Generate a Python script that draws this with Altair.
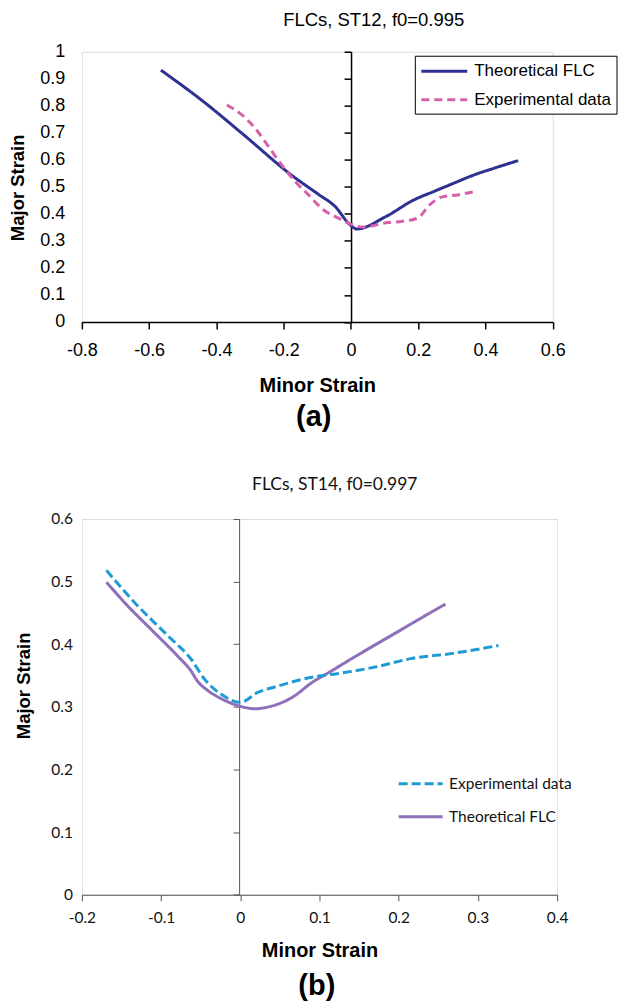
import altair as alt
import pandas as pd

# ---------------- data: panel (a)  ST12, f0 = 0.995 ----------------
A_THEO_MINOR = [-0.565, -0.438, -0.324, -0.171, -0.100, -0.047, -0.003, 0.017, 0.104, 0.188, 0.247, 0.307, 0.366, 0.426, 0.497]
A_THEO_MAJOR = [0.932, 0.815, 0.698, 0.538, 0.475, 0.427, 0.360, 0.344, 0.390, 0.452, 0.483, 0.514, 0.544, 0.569, 0.597]
A_EXP_MINOR = [-0.369, -0.324, -0.285, -0.245, -0.206, -0.166, -0.126, -0.082, -0.037, -0.003, 0.037, 0.111, 0.150, 0.198, 0.234, 0.269, 0.317, 0.370]
A_EXP_MAJOR = [0.803, 0.766, 0.717, 0.649, 0.581, 0.520, 0.470, 0.415, 0.384, 0.363, 0.351, 0.368, 0.372, 0.384, 0.433, 0.462, 0.470, 0.483]
A_XTICKS = [-0.8, -0.6, -0.4, -0.2, 0, 0.2, 0.4, 0.6]
A_YTICKS = [0, 0.1, 0.2, 0.3, 0.4, 0.5, 0.6, 0.7, 0.8, 0.9, 1]
A_SERIES = ["Theoretical FLC", "Experimental data"]
A_COLORS = ["#2E3192", "#D660AC"]

# ---------------- data: panel (b)  ST14, f0 = 0.997 ----------------
B_EXP_MINOR = [-0.169, -0.133, -0.091, -0.062, -0.045, -0.024, 0.0, 0.022, 0.047, 0.093, 0.122, 0.172, 0.215, 0.266, 0.326]
B_EXP_MAJOR = [0.518, 0.466, 0.413, 0.376, 0.344, 0.320, 0.307, 0.323, 0.333, 0.348, 0.353, 0.364, 0.377, 0.385, 0.398]
B_THEO_MINOR = [-0.169, -0.142, -0.108, -0.079, -0.062, -0.054, -0.043, -0.024, 0.0, 0.018, 0.039, 0.064, 0.093, 0.112, 0.142, 0.177, 0.207, 0.238, 0.259]
B_THEO_MAJOR = [0.499, 0.461, 0.418, 0.381, 0.357, 0.341, 0.328, 0.313, 0.301, 0.297, 0.301, 0.314, 0.341, 0.355, 0.378, 0.404, 0.426, 0.449, 0.464]
B_XTICKS = [-0.2, -0.1, 0, 0.1, 0.2, 0.3, 0.4]
B_YTICKS = [0, 0.1, 0.2, 0.3, 0.4, 0.5, 0.6]
B_SERIES = ["Experimental data", "Theoretical FLC"]
B_COLORS = ["#1E9AD5", "#8D6FBA"]

FA = "Liberation Sans"
FB = "Lato"


def frame(theo_x, theo_y, exp_x, exp_y):
    t = pd.DataFrame({"minor": theo_x, "major": theo_y, "series": "Theoretical FLC"})
    e = pd.DataFrame({"minor": exp_x, "major": exp_y, "series": "Experimental data"})
    return pd.concat([t, e], ignore_index=True)


dfa = frame(A_THEO_MINOR, A_THEO_MAJOR, A_EXP_MINOR, A_EXP_MAJOR)
dfb = frame(B_THEO_MINOR, B_THEO_MAJOR, B_EXP_MINOR, B_EXP_MAJOR)

# ---------------- panel (a) ----------------
leg_a = alt.Legend(orient="none", legendX=333.5, legendY=4, title=None, direction="vertical",
                   strokeColor="black", fillColor="white", padding=5, cornerRadius=0,
                   labelFont=FA, labelFontSize=17, labelColor="black", labelLimit=400,
                   symbolType="M-1,0L4.11,0", symbolSize=324, symbolStrokeWidth=3,
                   labelOffset=33.4, rowPadding=9.6)

lines_a = alt.Chart(dfa).mark_line(strokeWidth=3, interpolate="monotone").encode(
    x=alt.X("minor:Q", scale=alt.Scale(domain=[-0.8, 0.6], nice=False, zero=False),
            axis=alt.Axis(values=A_XTICKS, format=".1~f", grid=False, tickSize=7, tickColor="black",
                          tickWidth=1.5, domainColor="black", domainWidth=1.5, labelFont=FA,
                          labelFontSize=18, labelColor="black", labelPadding=12.9, labelFlush=False,
                          labelOverlap=False, title="Minor Strain", titleFont=FA, titleFontSize=20,
                          titleFontWeight="bold", titleColor="black", titleBaseline="alphabetic",
                          titleY=69.4)),
    y=alt.Y("major:Q", scale=alt.Scale(domain=[0, 1], nice=False, zero=False),
            axis=alt.Axis(values=A_YTICKS, format=".1~f", grid=False, offset=-269.6, tickSize=7,
                          tickColor="black", tickWidth=1.5, domainColor="black", domainWidth=1.5,
                          labelFont=FA, labelFontSize=18, labelColor="black", labelPadding=279.8,
                          labelFlush=False, labelOverlap=False, title="Major Strain", titleFont=FA,
                          titleFontSize=18.5, titleFontWeight="bold", titleColor="black",
                          titleAngle=270, titleAlign="center", titleBaseline="middle",
                          titleX=-333.8, titleY=135.8)),
    color=alt.Color("series:N", scale=alt.Scale(domain=A_SERIES, range=A_COLORS), legend=leg_a),
    strokeDash=alt.StrokeDash("series:N", scale=alt.Scale(domain=A_SERIES, range=[[1, 0], [8, 5]]),
                              legend=leg_a),
)

frame_a = alt.Chart(dfa).mark_point(opacity=0).encode(
    x=alt.X("minor:Q", axis=alt.Axis(orient="top", domain=False, ticks=False, labels=False, grid=False,
                                     title="FLCs, ST12, f0=0.995", titleFont=FA, titleFontSize=18.5,
                                     titleFontWeight="normal", titleColor="black", titleAlign="center",
                                     titleBaseline="top", titleAngle=0, titleX=291.8, titleY=-41.7)),
    y=alt.Y("major:Q", axis=alt.Axis(orient="right", domain=False, ticks=False, labels=False, grid=False,
                                     title="(a)", titleFont=FA, titleFontSize=29, titleFontWeight="bold",
                                     titleColor="black", titleAngle=0, titleAlign="center",
                                     titleBaseline="alphabetic", titleX=-239.8, titleY=374.8)),
)

panel_a = alt.layer(lines_a, frame_a).resolve_axis(x="independent", y="independent").properties(
    width=471.6, height=270.6)

# ---------------- panel (b) ----------------
leg_b = alt.Legend(orient="none", legendX=315.8, legendY=255.7, title=None, direction="vertical",
                   padding=0, labelFont=FB, labelFontSize=15.5, labelColor="#111111", labelLimit=400,
                   symbolType="M-1,0L4.5,0", symbolSize=256, symbolStrokeWidth=3,
                   labelOffset=33, rowPadding=15)

lines_b = alt.Chart(dfb).mark_line(strokeWidth=3, interpolate="monotone").encode(
    x=alt.X("minor:Q", scale=alt.Scale(domain=[-0.2, 0.4], nice=False, zero=False),
            axis=alt.Axis(values=B_XTICKS, format=".1~f", grid=False, tickSize=6, tickColor="#555555",
                          domainColor="#555555", domainWidth=1, labelFont=FB, labelFontSize=15.5,
                          labelColor="#111111", labelPadding=9.9, labelFlush=False, labelOverlap=False,
                          title="Minor Strain", titleFont=FA, titleFontSize=20, titleFontWeight="bold",
                          titleColor="black", titleBaseline="alphabetic", titleY=61.5)),
    y=alt.Y("major:Q", scale=alt.Scale(domain=[0, 0.6], nice=False, zero=False),
            axis=alt.Axis(values=B_YTICKS, format=".1~f", grid=False, offset=-157.5, tickSize=6,
                          tickColor="#555555", domainColor="#555555", domainWidth=1, labelFont=FB,
                          labelFontSize=15.5, labelColor="#111111", labelPadding=161,
                          labelFlush=False, labelOverlap=False, title="Major Strain", titleFont=FA,
                          titleFontSize=18.5, titleFontWeight="bold", titleColor="black",
                          titleAngle=270, titleAlign="center", titleBaseline="middle",
                          titleX=-216.2, titleY=166.7)),
    color=alt.Color("series:N", scale=alt.Scale(domain=B_SERIES, range=B_COLORS), legend=leg_b),
    strokeDash=alt.StrokeDash("series:N", scale=alt.Scale(domain=B_SERIES, range=[[9, 4], [1, 0]]),
                              legend=leg_b),
)

frame_b = alt.Chart(dfb).mark_point(opacity=0).encode(
    x=alt.X("minor:Q", axis=alt.Axis(orient="top", domain=False, ticks=False, labels=False, grid=False,
                                     title="FLCs, ST14, f0=0.997", titleFont=FB, titleFontSize=17.5,
                                     titleFontWeight="normal", titleColor="#111111", titleAlign="center",
                                     titleBaseline="alphabetic", titleAngle=0, titleX=252.8, titleY=-30)),
    y=alt.Y("major:Q", axis=alt.Axis(orient="right", domain=False, ticks=False, labels=False, grid=False,
                                     title="(b)", titleFont=FA, titleFontSize=29, titleFontWeight="bold",
                                     titleColor="black", titleAngle=0, titleAlign="center",
                                     titleBaseline="alphabetic", titleX=-241.2, titleY=476.2)),
)

panel_b = alt.layer(lines_b, frame_b).resolve_axis(x="independent", y="independent").properties(
    width=476, height=376.4)

chart = alt.vconcat(panel_a, panel_b, spacing=197, bounds="flush").resolve_scale(
    color="independent", strokeDash="independent"
).properties(
    padding={"left": 0, "top": 0, "right": 0, "bottom": 0}
).configure_view(stroke=None).configure(
    locale={"number": {"decimal": ".", "thousands": ",", "grouping": [3],
                       "currency": ["$", ""], "minus": "-"}}
)

chart.save("out.html", embed_options={"renderer": "svg", "actions": False})
